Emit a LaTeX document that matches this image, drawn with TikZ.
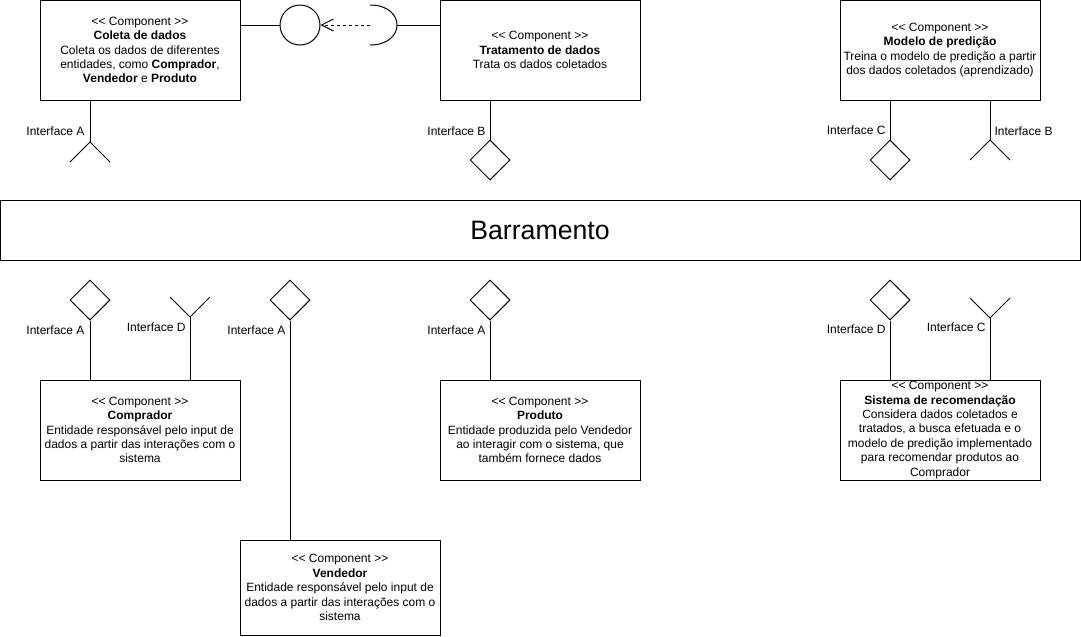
\documentclass[tikz,border=0pt]{standalone}
\usepackage{fontspec}
\setmainfont{Liberation Sans}
\usetikzlibrary{shapes.geometric,arrows.meta}
\newcommand\stereo{<\kern0pt< Component >\kern0pt>}
\tikzset{
  every path/.style={line width=0.75pt},
  comp/.style={draw, rectangle, minimum width=150pt, minimum height=75pt, inner sep=0pt, align=center, font=\fontsize{9}{10.8}\selectfont},
  lbl/.style={inner sep=0pt, font=\fontsize{9}{10.8}\selectfont},
  prov/.style={draw, diamond, minimum width=30pt, minimum height=30pt, inner sep=0pt},
  lolly/.style={draw, circle, minimum size=30pt, inner sep=0pt},
  dep/.style={dash pattern=on 2.25pt off 2.25pt, -{Straight Barb[length=9pt,width=9pt]}},
}
\begin{document}
\begin{tikzpicture}[x=0.75pt,y=-0.75pt]
\useasboundingbox (0,0) rectangle (1081,636);
% top components
\node[comp] (coleta) at (140,50) {\stereo\\ \textbf{Coleta de dados}\\ Coleta os dados de diferentes\\ entidades, como \textbf{Comprador},\\ \textbf{Vendedor} e \textbf{Produto}};
\node[comp] (trat) at (540,50) {\stereo\\ \textbf{Tratamento de dados}\\ Trata os dados coletados};
\node[comp] (modelo) at (940,50) {\stereo\\ \textbf{Modelo de predição}\\ Treina o modelo de predição a partir\\ dos dados coletados (aprendizado)};
% bus
\node[draw, rectangle, minimum width=810pt, minimum height=45pt, inner sep=0pt, font=\fontsize{20}{24}\selectfont] (bus) at (540,230) {Barramento};
% bottom components
\node[comp] (compr) at (140,430) {\stereo\\ \textbf{Comprador}\\ Entidade responsável pelo input de\\ dados a partir das interações com o\\ sistema};
\node[comp] (prod) at (540,430) {\stereo\\ \textbf{Produto}\\ Entidade produzida pelo Vendedor\\ ao interagir com o sistema, que\\ também fornece dados};
\node[comp] (sis) at (940,430) {\stereo\\ \textbf{Sistema de recomendação}\\ Considera dados coletados e\\ tratados, a busca efetuada e o\\ modelo de predição implementado\\ para recomendar produtos ao\\ Comprador};
\node[comp, minimum height=71.25pt] (vend) at (340,587.5) {\stereo\\ \textbf{Vendedor}\\ Entidade responsável pelo input de\\ dados a partir das interações com o\\ sistema};

% lollipop / socket between Coleta and Tratamento
\node[lolly] (lol) at (300,25) {};
\coordinate (sockL) at (370,25);
\coordinate (sockR) at (397,25);
\draw (lol.west -| coleta.east) -- (lol.west);
\draw[dep] (sockL) -- (lol.east);
\draw (370,5) .. controls (406,5) and (406,45) .. (370,45);
\draw (sockR) -- (sockR -| trat.west);

% top interfaces
\coordinate (fA) at (90,142);
\draw (fA |- coleta.south) -- (fA);
\draw (fA) +(-20,20) -- (fA) -- +(20,20);
\node[lbl, anchor=east] (lA) at (85,131) {Interface A};

\node[prov] (dB) at (490,160) {};
\draw (dB.north |- trat.south) -- (dB.north);
\node[lbl, anchor=east] (lB) at (486,131) {Interface B};

\node[prov] (dC) at (890,160) {};
\draw (dC.north |- modelo.south) -- (dC.north);
\node[lbl, anchor=east] (lC) at (886,130) {Interface C};

\coordinate (fB) at (990,140);
\draw (fB |- modelo.south) -- (fB);
\draw (fB) +(-20,20) -- (fB) -- +(20,20);
\node[lbl, anchor=west] (lB2) at (994,131) {Interface B};

% bottom interfaces
\node[prov] (dA1) at (90,300) {};
\draw (dA1.south) -- (dA1.south |- compr.north);
\node[lbl, anchor=east] (lA1) at (85,330) {Interface A};

\coordinate (fD) at (190,317);
\draw (fD) +(-20,-20) -- (fD) -- +(20,-20);
\draw (fD) -- (fD |- compr.north);
\node[lbl, anchor=east] (lD1) at (186,327) {Interface D};

\node[prov] (dA2) at (290,300) {};
\draw (dA2.south) -- (dA2.south |- vend.north);
\node[lbl, anchor=east] (lA2) at (286,330) {Interface A};

\node[prov] (dA3) at (490,300) {};
\draw (dA3.south) -- (dA3.south |- prod.north);
\node[lbl, anchor=east] (lA3) at (486,330) {Interface A};

\node[prov] (dD) at (890,300) {};
\draw (dD.south) -- (dD.south |- sis.north);
\node[lbl, anchor=east] (lD2) at (886,329) {Interface D};

\coordinate (fC) at (990,318);
\draw (fC) +(-20,-20) -- (fC) -- +(20,-20);
\draw (fC) -- (fC |- sis.north);
\node[lbl, anchor=east] (lC2) at (986,327) {Interface C};
\end{tikzpicture}
\end{document}
